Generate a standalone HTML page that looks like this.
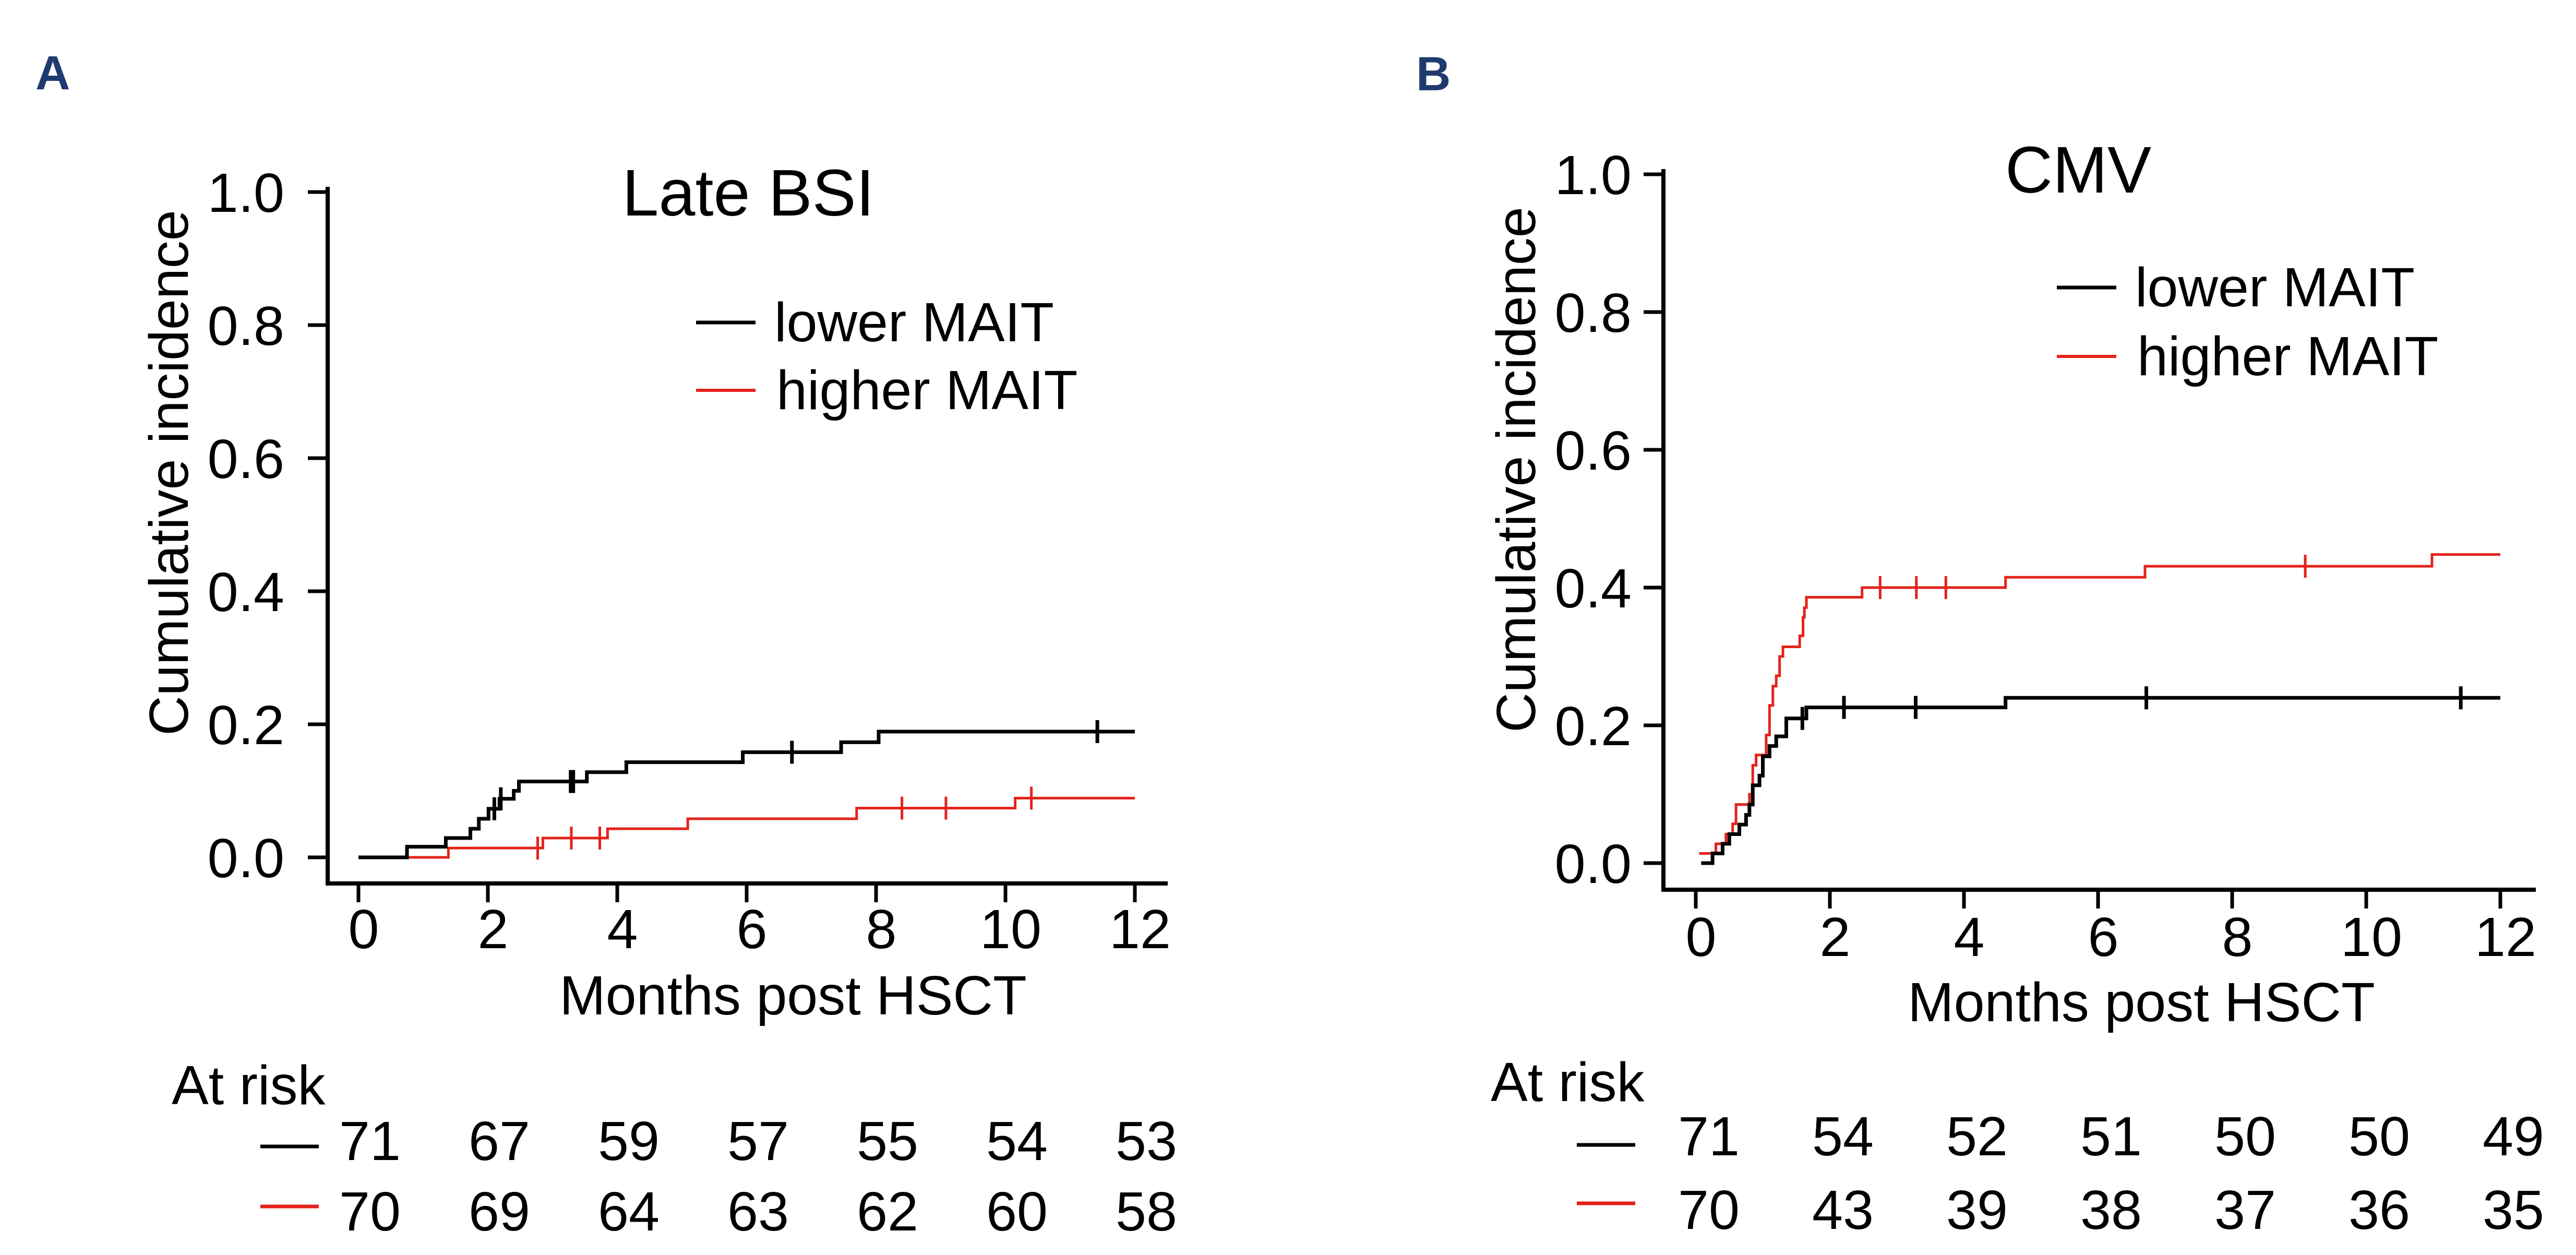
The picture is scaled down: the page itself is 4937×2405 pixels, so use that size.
<!DOCTYPE html>
<html><head><meta charset="utf-8"><style>
html,body{margin:0;padding:0;background:#fff;}
svg{display:block;font-family:"Liberation Sans",Arial,sans-serif;}
</style></head><body>
<svg id="fig" width="4937" height="2405" viewBox="0 0 4937 2405" xmlns="http://www.w3.org/2000/svg">
<rect width="4937" height="2405" fill="#fff"/>
<text x="68" y="171" font-size="92" font-weight="bold" fill="#1f3a6e">A</text>
<text x="2714" y="173" font-size="92" font-weight="bold" fill="#1f3a6e">B</text>
</svg>
<script>
// ---- Panel A data (Late BSI) ----
const xTicks = [0, 2, 4, 6, 8, 10, 12];
const yTicks = [0.0, 0.2, 0.4, 0.6, 0.8, 1.0];
const yTickLabels = ["0.0", "0.2", "0.4", "0.6", "0.8", "1.0"];
const aLowerTimes = [0, 0.75, 1.35, 1.73, 1.86, 2.01, 2.18, 2.4, 2.48, 3.53, 4.14, 5.94, 7.46, 8.04, 12];
const aLowerVals = [0, 0.016, 0.029, 0.043, 0.058, 0.073, 0.088, 0.1, 0.114, 0.128, 0.143, 0.158, 0.173, 0.189, 0.189];
const aLowerCensor = [2.1, 2.2, 3.28, 3.32, 6.7, 11.42];
const aHigherTimes = [0, 1.39, 2.85, 3.85, 5.09, 7.7, 10.15, 12];
const aHigherVals = [0, 0.014, 0.029, 0.043, 0.058, 0.074, 0.089, 0.089];
const aHigherCensor = [2.77, 3.29, 3.73, 8.4, 9.08, 10.4];
const aRiskLower = [71, 67, 59, 57, 55, 54, 53];
const aRiskHigher = [70, 69, 64, 63, 62, 60, 58];
// ---- Panel B data (CMV) ----
const bLowerTimes = [0.08, 0.25, 0.4, 0.5, 0.65, 0.75, 0.8, 0.85, 0.95, 1.0, 1.1, 1.2, 1.35, 1.65, 4.62, 12];
const bLowerVals = [0, 0.014, 0.028, 0.042, 0.056, 0.07, 0.085, 0.113, 0.127, 0.155, 0.17, 0.184, 0.21, 0.226, 0.24, 0.24];
const bLowerCensor = [1.59, 2.21, 3.28, 6.72, 11.41];
const bHigherTimes = [0.05, 0.3, 0.45, 0.55, 0.6, 0.8, 0.85, 0.9, 1.05, 1.1, 1.15, 1.2, 1.25, 1.3, 1.55, 1.6, 1.62, 1.65, 2.48, 4.62, 6.7, 10.98, 12];
const bHigherVals = [0.014, 0.028, 0.042, 0.057, 0.085, 0.1, 0.142, 0.157, 0.186, 0.229, 0.257, 0.272, 0.3, 0.314, 0.33, 0.357, 0.371, 0.386, 0.4, 0.415, 0.431, 0.448, 0.448];
const bHigherCensor = [2.75, 3.29, 3.73, 9.09];
const bRiskLower = [71, 54, 52, 51, 50, 50, 49];
const bRiskHigher = [70, 43, 39, 38, 37, 36, 35];

const NS = "http://www.w3.org/2000/svg";
const svg = document.getElementById("fig");
function mk(tag, attrs, parent) {
  const e = document.createElementNS(NS, tag);
  for (const k in attrs) e.setAttribute(k, attrs[k]);
  (parent || svg).appendChild(e);
  return e;
}

function panel(p) {
  const g = mk("g", {});
  
  
  const xs = t => p.x0 + t * p.xPer;
  const ys = v => p.y0 - v * p.yPer;
  // axes
  const ya = mk("line", {x1: p.ax, y1: ys(1) - 10, x2: p.ax, y2: p.axY, stroke: "#000", "stroke-width": 8}, g);
  
  
  const xa = mk("line", {x1: p.ax - 4, y1: p.axY, x2: p.axEnd, y2: p.axY, stroke: "#000", "stroke-width": 8}, g);
  
  
  yTicks.forEach((v, i) => {
    const tk = mk("line", {x1: p.ax - 38, y1: ys(v), x2: p.ax, y2: ys(v), stroke: "#000", "stroke-width": 7}, g);
    
    
    const tl = mk("text", {x: p.yLabRight, y: ys(v) + 38, "font-size": 106, "text-anchor": "end"}, g);
    tl.textContent = yTickLabels[i];
    
    
  });
  xTicks.forEach(t => {
    const tk = mk("line", {x1: xs(t), y1: p.axY, x2: xs(t), y2: p.axY + 36, stroke: "#000", "stroke-width": 7}, g);
    
    
    const tl = mk("text", {x: xs(t) + 10, y: p.xLabY, "font-size": 106, "text-anchor": "middle"}, g);
    tl.textContent = String(t);
    
    
  });
  // titles
  const ti = mk("text", {x: p.titleX, y: p.titleY, "font-size": 126, "text-anchor": "middle"}, g);
  ti.textContent = p.title;
  
  
  const yt = mk("text", {x: 0, y: 0, "font-size": 106, "text-anchor": "middle", transform: `translate(${p.ytX},${p.ytY}) rotate(-90)`}, g);
  yt.textContent = "Cumulative incidence";
  
  
  const xt = mk("text", {x: p.xtX, y: p.xtY, "font-size": 106, "text-anchor": "middle"}, g);
  xt.textContent = "Months post HSCT";
  
  
  // curves
  function curve(times, vals, cens, color, w, name) {
    let d = `M${xs(times[0])},${ys(vals[0])}`;
    for (let i = 1; i < times.length; i++) {
      d += ` H${xs(times[i])} V${ys(vals[i])}`;
    }
    const pa = mk("path", {d: d, fill: "none", stroke: color, "stroke-width": w, "stroke-linejoin": "miter"}, g);
    
    
    cens.forEach(c => {
      let v = vals[0];
      for (let i = 0; i < times.length; i++) if (times[i] <= c) v = vals[i];
      const cm = mk("line", {x1: xs(c), y1: ys(v) - 22, x2: xs(c), y2: ys(v) + 22, stroke: color, "stroke-width": w}, g);
      
      
    });
  }
  curve(p.hT, p.hV, p.hC, "#e3231b", 5, "higher-mait");
  curve(p.lT, p.lV, p.lC, "#000", 7, "lower-mait");
  // legend
  const l1 = mk("line", {x1: p.legX, y1: p.legY1, x2: p.legX + 114, y2: p.legY1, stroke: "#000", "stroke-width": 7}, g);
  
  
  const t1 = mk("text", {x: p.legX + 150, y: p.legY1 + 36, "font-size": 106}, g);
  t1.textContent = "lower MAIT";
  
  
  const l2 = mk("line", {x1: p.legX, y1: p.legY2, x2: p.legX + 114, y2: p.legY2, stroke: "#e3231b", "stroke-width": 6}, g);
  
  
  const t2 = mk("text", {x: p.legX + 154, y: p.legY2 + 36, "font-size": 106}, g);
  t2.textContent = "higher MAIT";
  
  
  // at risk
  const ar = mk("text", {x: p.arX, y: p.arY, "font-size": 106}, g);
  ar.textContent = "At risk";
  
  
  const rows = [[p.rL, "#000", p.r1Line, p.r1Y, "lower"], [p.rH, "#e3231b", p.r2Line, p.r2Y, "higher"]];
  rows.forEach(r => {
    const sw = mk("line", {x1: p.rlX, y1: r[2], x2: p.rlX + 112, y2: r[2], stroke: r[1], "stroke-width": 7}, g);
    
    
    r[0].forEach((n, i) => {
      const tn = mk("text", {x: xs(xTicks[i]) + p.rOff, y: r[3], "font-size": 106, "text-anchor": "middle"}, g);
      tn.textContent = String(n);
      
      
    });
  });
}

panel({id: "panel-a-late-bsi", title: "Late BSI", x0: 687, xPer: 124, y0: 1643, yPer: 1275, ax: 628, axY: 1693, axEnd: 2238,
  yLabRight: 545, xLabY: 1817, titleX: 1434, titleY: 413, ytX: 360, ytY: 906, xtX: 1520, xtY: 1944,
  lT: aLowerTimes, lV: aLowerVals, lC: aLowerCensor, hT: aHigherTimes, hV: aHigherVals, hC: aHigherCensor,
  legX: 1334, legY1: 618, legY2: 748, arX: 329, arY: 2116, rlX: 499, r1Line: 2197, r1Y: 2223, r2Line: 2312, r2Y: 2358,
  rL: aRiskLower, rH: aRiskHigher, rOff: 22});
panel({id: "panel-b-cmv", title: "CMV", x0: 3250, xPer: 128.5, y0: 1654, yPer: 1320, ax: 3188, axY: 1705, axEnd: 4860,
  yLabRight: 3127, xLabY: 1832, titleX: 3983, titleY: 369, ytX: 2942, ytY: 900, xtX: 4104, xtY: 1957,
  lT: bLowerTimes, lV: bLowerVals, lC: bLowerCensor, hT: bHigherTimes, hV: bHigherVals, hC: bHigherCensor,
  legX: 3942, legY1: 551, legY2: 683, arX: 2857, arY: 2110, rlX: 3022, r1Line: 2194, r1Y: 2214, r2Line: 2306, r2Y: 2355,
  rL: bRiskLower, rH: bRiskHigher, rOff: 25});
</script>
</body></html>
